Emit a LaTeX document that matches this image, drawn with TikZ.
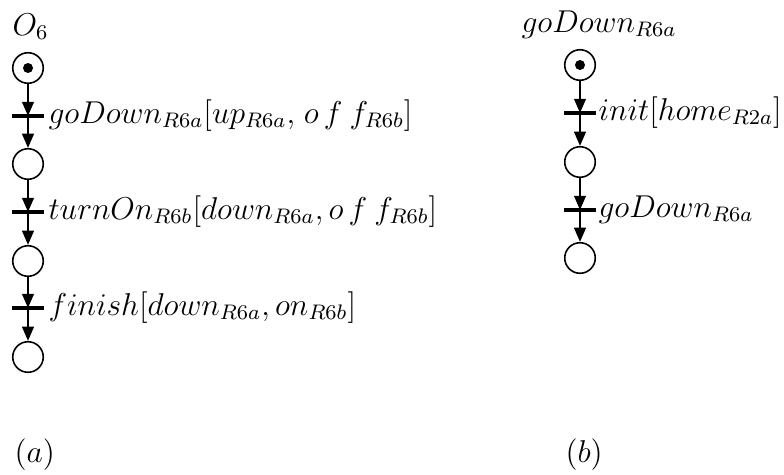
\documentclass[tikz,border=0pt]{standalone}
\usetikzlibrary{arrows.meta}
\newcommand{\offw}{o\mkern3mu f\mkern4mu f}
\begin{document}
\begin{tikzpicture}[x=0.38pt,y=-0.38pt,
  every node/.style={font=\fontsize{11.7}{14}\selectfont},
  place/.style={circle,draw,line width=0.6pt,minimum size=11.6pt,inner sep=0pt},
  marked/.style={place,path picture={\fill (path picture bounding box.center) circle (1.9pt);}},
  trans/.style={fill,minimum width=11.8pt,minimum height=1.5pt,inner sep=0pt},
  arc/.style={-{Triangle[length=5.4pt,width=4.4pt]},line width=0.9pt},
  lab/.style={anchor=base west,inner sep=0pt}]
\useasboundingbox (0,0) rectangle (784,474);
% (a)
\node[lab] (ta) at (12,35) {$O_6$};
\node[marked] (a1) at (28,68) {};
\node[trans] (at1) at (28,116) {};
\node[place] (a2) at (28,164) {};
\node[trans] (at2) at (28,212) {};
\node[place] (a3) at (28,261) {};
\node[trans] (at3) at (28,308) {};
\node[place] (a4) at (28,357) {};
\draw[arc] (a1) -- (at1.center);
\draw[arc] (at1.center) -- (a2);
\draw[arc] (a2) -- (at2.center);
\draw[arc] (at2.center) -- (a3);
\draw[arc] (a3) -- (at3.center);
\draw[arc] (at3.center) -- (a4);
\node[lab] (l1) at (48,123) {$goDown_{R6a}[up_{R6a},\mkern2mu\offw_{R6b}]$};
\node[lab] (l2) at (48,219) {$turnOn_{R6b}[down_{R6a},\offw_{R6b}]$};
\node[lab] (l3) at (48,315) {$finish[down_{R6a},on_{R6b}]$};
\node[lab] (ca) at (14,462) {$(a)$};
% (b)
\node[lab] (tb) at (521,32) {$goDown_{R6a}$};
\node[marked] (b1) at (580,65) {};
\node[trans] (bt1) at (580,113) {};
\node[place] (b2) at (580,162) {};
\node[trans] (bt2) at (580,210) {};
\node[place] (b3) at (580,258) {};
\draw[arc] (b1) -- (bt1.center);
\draw[arc] (bt1.center) -- (b2);
\draw[arc] (b2) -- (bt2.center);
\draw[arc] (bt2.center) -- (b3);
\node[lab] (m1) at (598,120) {$init[home_{R2a}]$};
\node[lab] (m2) at (598,217) {$goDown_{R6a}$};
\node[lab] (cb) at (565,462) {$(b)$};
\end{tikzpicture}
\end{document}
